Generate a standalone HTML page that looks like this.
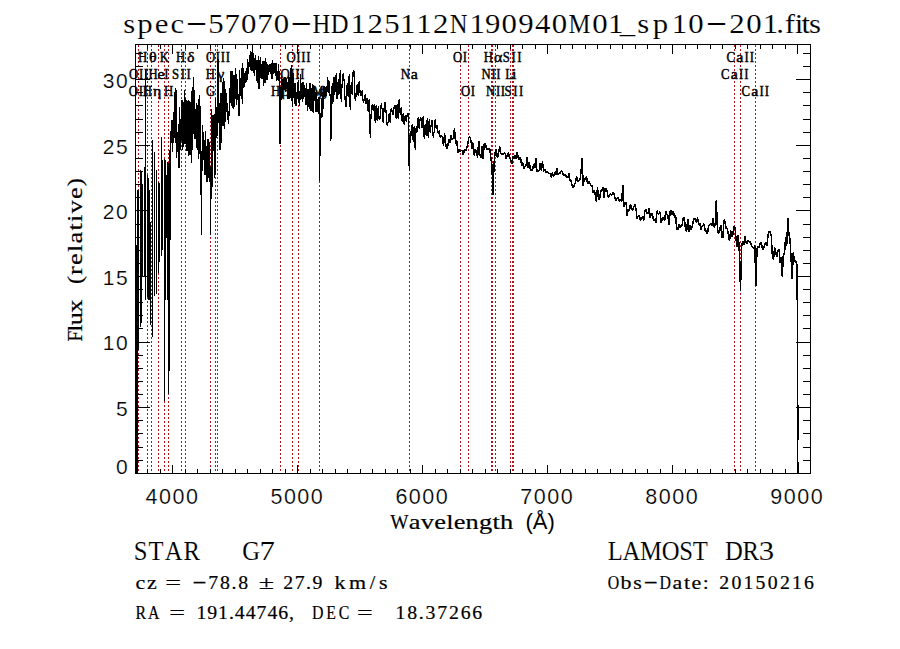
<!DOCTYPE html>
<html><head><meta charset="utf-8"><title>spec-57070-HD125112N190940M01_sp10-201</title>
<style>html,body{margin:0;padding:0;background:#fff;overflow:hidden}svg{display:block}text{fill:#000}</style></head>
<body>
<svg width="900" height="649" viewBox="0 0 900 649">
<rect width="900" height="649" fill="#fff"/>
<g stroke="#b5121b" stroke-width="1" stroke-dasharray="2 2" shape-rendering="crispEdges">
<line x1="138.5" y1="471.0" x2="138.5" y2="45.0"/>
<line x1="138.5" y1="471.0" x2="138.5" y2="45.0"/>
<line x1="147.5" y1="471.0" x2="147.5" y2="45.0"/>
<line x1="151.5" y1="471.0" x2="151.5" y2="45.0"/>
<line x1="158.5" y1="471.0" x2="158.5" y2="45.0"/>
<line x1="164.5" y1="471.0" x2="164.5" y2="45.0"/>
<line x1="168.5" y1="471.0" x2="168.5" y2="45.0"/>
<line x1="181.5" y1="471.0" x2="181.5" y2="45.0"/>
<line x1="185.5" y1="471.0" x2="185.5" y2="45.0"/>
<line x1="210.5" y1="471.0" x2="210.5" y2="45.0"/>
<line x1="215.5" y1="471.0" x2="215.5" y2="45.0"/>
<line x1="217.5" y1="471.0" x2="217.5" y2="45.0"/>
<line x1="280.5" y1="471.0" x2="280.5" y2="45.0"/>
<line x1="292.5" y1="471.0" x2="292.5" y2="45.0"/>
<line x1="298.5" y1="471.0" x2="298.5" y2="45.0"/>
<line x1="319.5" y1="471.0" x2="319.5" y2="45.0"/>
<line x1="409.5" y1="471.0" x2="409.5" y2="45.0"/>
<line x1="460.5" y1="471.0" x2="460.5" y2="45.0"/>
<line x1="468.5" y1="471.0" x2="468.5" y2="45.0"/>
<line x1="491.5" y1="471.0" x2="491.5" y2="45.0"/>
<line x1="492.5" y1="471.0" x2="492.5" y2="45.0"/>
<line x1="495.5" y1="471.0" x2="495.5" y2="45.0"/>
<line x1="510.5" y1="471.0" x2="510.5" y2="45.0"/>
<line x1="512.5" y1="471.0" x2="512.5" y2="45.0"/>
<line x1="513.5" y1="471.0" x2="513.5" y2="45.0"/>
<line x1="734.5" y1="471.0" x2="734.5" y2="45.0"/>
<line x1="740.5" y1="471.0" x2="740.5" y2="45.0"/>
<line x1="755.5" y1="471.0" x2="755.5" y2="45.0"/>
</g>
<path fill="none" stroke="#000" stroke-width="1" shape-rendering="crispEdges" d="M136.5 245V473 M137.5 190V473 M138.5 190V350 M140.5 170V327 M141.5 172V323 M142.5 185V277 M144.5 167V277 M145.5 70V300 M147.5 175V297 M148.5 178V300 M149.5 190V300 M150.5 222V325 M152.5 140V337 M154.5 152V296 M156.5 170V294 M158.5 182V273 M159.5 183V262 M161.5 137V256 M162.5 160V250 M164.5 159V401 M165.5 160V300 M166.5 175V238 M167.5 162V300 M168.5 163V394 M169.5 150V371 M170.5 131V240 M797.5 264V473 M796.5 262V300 M798.5 405V440 M798.5 462V473"/>
<polyline fill="none" stroke="#000" stroke-width="1.2" stroke-linejoin="bevel" shape-rendering="crispEdges" points="170.5,150.0 170.9,142.6 171.5,141.7 172.1,120.5 172.8,151.6 173.4,112.4 174.0,138.0 174.6,92.3 175.2,142.8 175.9,87.6 176.5,157.6 177.1,143.2 177.7,151.9 178.3,124.5 179.0,168.2 179.6,106.6 180.2,150.4 180.8,119.4 181.4,140.9 182.1,99.7 182.7,150.3 183.3,102.0 183.9,146.7 184.5,90.3 185.2,144.1 185.8,98.1 186.4,107.0 187.0,151.4 187.6,101.4 188.3,156.1 188.9,100.5 189.5,110.3 190.1,154.9 190.7,101.7 191.4,163.3 192.0,91.0 192.6,150.3 193.2,77.1 193.8,134.0 194.5,89.8 195.1,139.4 195.7,109.0 196.3,148.2 196.9,103.4 197.6,150.0 198.2,99.2 198.8,158.9 199.4,95.2 200.0,153.6 200.7,106.4 201.3,235.0 201.9,173.4 202.5,125.1 203.1,159.9 203.8,131.7 204.4,170.3 205.0,175.0 205.6,131.3 206.2,160.4 206.9,181.2 207.5,182.1 208.1,139.2 208.7,177.9 209.3,142.3 210.0,169.7 210.6,235.0 211.2,167.2 211.8,108.8 212.4,187.0 213.1,114.6 213.7,151.1 214.3,114.1 214.9,178.0 215.5,97.9 216.2,138.0 216.8,106.9 217.4,136.3 218.0,59.4 218.6,122.9 219.3,103.4 219.9,150.1 220.5,139.0 221.1,92.6 221.7,143.0 222.4,82.3 223.0,126.2 223.6,78.3 224.2,83.5 224.8,129.0 225.5,89.3 226.1,109.0 226.7,93.0 227.3,120.4 227.9,113.7 228.6,123.6 229.2,109.1 229.8,88.0 230.4,102.9 231.0,71.4 231.7,105.7 232.3,71.1 232.9,107.2 233.5,108.7 234.1,74.6 234.8,106.8 235.4,68.1 236.0,74.5 236.6,104.7 237.2,79.0 237.9,94.1 238.5,110.3 239.1,116.4 239.7,69.6 240.3,96.2 241.0,80.0 241.6,68.3 242.2,104.0 242.8,63.5 243.4,88.0 244.1,73.4 244.7,87.3 245.3,71.3 245.9,83.1 246.5,68.0 247.2,80.1 247.8,59.1 248.4,73.6 249.0,62.8 249.6,66.5 250.3,51.3 250.9,69.8 251.5,52.4 252.1,70.9 252.7,44.5 253.4,73.3 254.0,58.1 254.6,76.0 255.2,54.6 255.8,60.9 256.5,81.2 257.1,59.6 257.7,82.8 258.3,56.3 258.9,88.7 259.6,79.9 260.2,56.8 260.8,78.4 261.4,64.4 262.0,78.6 262.7,61.2 263.3,85.7 263.9,60.7 264.5,74.9 265.1,83.4 265.8,58.4 266.4,77.0 267.0,80.3 267.6,64.0 268.2,74.9 268.9,65.1 269.5,71.6 270.1,64.1 270.7,74.1 271.3,63.5 272.0,79.3 272.6,60.4 273.2,73.5 273.8,63.4 274.4,73.2 275.1,63.0 275.7,75.5 276.3,63.3 276.9,80.8 277.5,71.5 278.2,80.6 278.8,64.3 279.4,97.3 280.0,143.5 280.6,118.9 281.3,75.6 281.9,99.4 282.5,78.9 283.1,89.8 283.7,78.7 284.4,89.9 285.0,76.8 285.6,92.3 286.2,79.2 286.8,88.7 287.5,82.4 288.1,99.0 288.7,74.6 289.3,81.5 289.9,98.6 290.6,67.9 291.2,101.2 291.8,65.4 292.4,107.1 293.0,73.1 293.7,97.8 294.3,83.0 294.9,104.3 295.5,82.9 296.1,105.5 296.8,102.4 297.4,82.5 298.0,98.7 298.6,80.1 299.2,106.4 299.9,100.7 300.5,73.8 301.1,98.9 301.7,83.4 302.3,102.0 303.0,82.5 303.6,99.4 304.2,85.0 304.8,96.8 305.4,88.4 306.1,105.2 306.7,83.1 307.3,111.3 307.9,88.9 308.5,91.9 309.2,108.8 309.8,82.6 310.4,85.9 311.0,111.4 311.6,88.0 312.3,111.7 312.9,84.5 313.5,112.6 314.1,86.9 314.7,101.4 315.4,91.9 316.0,112.0 316.6,89.7 317.2,111.7 317.8,99.4 318.5,114.3 319.1,97.2 319.7,181.0 320.3,113.4 320.9,119.2 321.6,97.8 322.2,116.5 322.8,92.2 323.4,108.7 324.0,86.0 324.7,97.4 325.3,87.3 325.9,96.4 326.5,86.5 327.1,91.6 327.8,77.1 328.4,93.0 329.0,80.7 329.6,92.9 330.2,96.0 330.9,141.0 331.5,86.1 332.1,104.2 332.7,83.1 333.3,102.2 334.0,77.5 334.6,95.1 335.2,89.3 335.8,76.0 336.4,73.3 337.1,99.3 337.7,82.4 338.3,95.0 338.9,78.6 339.5,93.8 340.2,70.3 341.2,101.6 342.2,82.1 343.2,73.1 344.2,81.8 345.2,101.9 346.2,107.2 347.2,82.7 348.2,97.1 349.2,74.0 350.2,110.0 351.2,82.5 352.2,94.7 353.2,70.2 354.2,71.9 355.2,101.3 356.2,95.8 357.2,84.5 358.2,96.1 359.2,81.2 360.2,93.8 361.2,95.6 362.2,90.2 363.2,102.4 364.2,100.3 365.2,94.3 366.2,104.3 367.2,97.7 368.2,112.0 369.2,99.4 370.2,137.5 371.2,112.0 372.2,104.1 373.2,111.0 374.2,104.4 375.2,122.6 376.2,104.7 377.2,121.0 378.2,106.5 379.2,119.9 380.2,118.7 381.2,103.4 382.2,109.8 383.2,123.1 384.2,107.0 385.2,101.6 386.2,113.5 387.2,126.1 388.2,122.0 389.2,113.3 390.2,122.8 391.2,107.7 392.2,110.8 393.2,115.3 394.2,106.0 395.2,104.7 396.2,119.3 397.2,104.2 398.2,119.3 399.2,98.6 400.2,114.5 401.2,107.1 402.2,122.2 403.2,113.0 404.2,124.6 405.2,115.4 406.2,122.0 407.2,114.7 408.2,113.6 409.2,170.8 410.2,131.4 411.2,136.2 412.2,124.2 413.2,142.0 414.2,125.7 415.2,150.1 416.2,125.9 417.2,132.1 418.2,117.0 419.2,129.4 420.2,117.8 421.2,118.0 422.2,128.3 423.2,115.7 424.2,138.6 425.2,124.1 426.2,135.7 427.2,118.3 428.2,138.1 429.2,119.3 430.2,132.9 431.2,124.6 432.2,120.0 433.2,137.8 434.2,131.4 435.2,119.4 436.2,128.6 437.2,124.9 438.2,133.8 439.2,130.4 440.2,138.1"/>
<polyline fill="none" stroke="#000" stroke-width="1.5" stroke-linejoin="bevel" shape-rendering="crispEdges" points="440.2,138.1 441.3,134.8 442.4,137.4 443.5,146.2 444.6,133.4 445.7,144.3 446.8,148.7 447.9,145.4 449.0,138.7 450.1,143.2 451.2,135.4 452.3,139.8 453.4,138.3 454.5,127.9 455.6,144.1 456.7,139.9 457.8,152.7 458.9,149.6 460.0,151.5 461.1,150.1 462.2,151.1 463.3,155.1 464.4,149.1 465.5,151.2 466.6,148.0 467.7,144.3 468.8,137.2 469.9,137.0 471.0,140.6 472.1,148.8 473.2,142.6 474.3,155.5 475.4,149.4 476.5,151.8 477.6,158.0 478.7,140.7 479.8,154.5 480.9,157.9 482.0,146.1 483.1,159.4 484.2,144.4 485.3,142.8 486.4,148.8 487.5,148.8 488.6,149.1 489.7,148.5 490.8,157.2 491.9,164.9 493.0,194.6 494.1,162.5 495.2,152.0 496.3,148.9 497.4,158.3 498.5,154.4 499.6,146.2 500.7,153.5 501.8,155.0 502.9,153.9 504.0,153.8 505.1,152.9 506.2,158.7 507.3,155.0 508.4,152.6 509.5,158.1 510.6,159.2 511.7,164.0 512.8,155.8 513.9,159.1 515.0,155.4 516.1,159.0 517.2,152.3 518.3,158.2 519.4,160.0 520.5,156.8 521.6,165.9 522.7,162.3 523.8,169.1 524.9,166.8 526.0,165.9 527.1,156.8 528.2,168.3 529.3,161.8 530.4,170.3 531.5,170.5 532.6,169.4 533.7,163.9 534.8,167.7 535.9,158.0 537.0,171.7 538.1,170.7 539.2,170.9 540.3,163.1 541.4,170.7 542.5,161.5 543.6,171.3 544.7,169.4 545.8,172.3 546.9,171.8 548.0,172.1 549.1,173.3 550.2,173.2 551.3,177.4 552.4,172.5 553.5,177.3 554.6,172.5 555.7,175.1 556.8,167.9 557.9,175.1 559.0,173.1 560.1,173.0 561.2,171.0 562.3,171.4 563.4,175.2 564.5,175.0 565.6,174.6 566.7,177.8 567.8,177.6 568.9,173.5 570.0,180.3 571.1,180.9 572.2,186.1 573.3,187.7 574.4,184.6 575.5,182.4 576.6,176.4 577.7,182.2 578.8,180.6 579.9,180.1 581.0,172.4 582.1,158.0 583.2,185.9 584.3,178.8 585.4,179.8 586.5,175.8 587.6,184.2 588.7,180.8 589.8,183.3 590.9,185.1 592.0,185.6 593.1,192.4 594.2,190.0 595.3,194.8 596.4,202.1 597.5,186.8 598.6,200.1 599.7,197.9 600.8,191.0 601.9,190.7 603.0,187.1 604.1,198.0 605.2,188.6 606.3,187.9 607.4,192.9 608.5,198.2 609.6,194.3 610.7,194.2 611.8,195.1 612.9,192.7 614.0,194.0 615.1,198.6 616.2,200.7 617.3,197.8 618.4,197.8 619.5,201.5 620.6,199.7 621.7,201.5 622.8,184.8 623.9,207.1 625.0,202.9 626.1,202.6 627.2,215.7 628.3,208.9 629.4,210.9 630.5,203.9 631.6,209.1 632.7,210.2 633.8,207.1 634.9,204.5 636.0,208.8 637.1,218.7 638.2,216.1 639.3,215.3 640.4,220.1 641.5,219.1 642.6,215.9 643.7,220.8 644.8,211.2 645.9,209.1 647.0,213.1 648.1,213.9 649.2,208.4 650.3,218.0 651.4,214.0 652.5,214.2 653.6,220.6 654.7,219.5 655.8,223.1 656.9,210.7 658.0,213.3 659.1,214.1 660.2,211.7 661.3,223.2 662.4,217.6 663.5,217.7 664.6,221.1 665.7,210.7 666.8,213.8 667.9,215.9 669.0,224.7 670.1,211.8 671.2,210.7 672.3,215.1 673.4,210.7 674.5,217.5 675.6,215.6 676.7,228.6 677.8,229.9 678.9,224.2 680.0,228.0 681.1,225.8 682.2,224.8 683.3,218.1 684.4,217.3 685.5,230.1 686.6,231.8 687.7,218.6 688.8,231.8 689.9,224.8 691.0,229.5 692.1,227.2 693.2,221.3 694.3,218.0 695.4,219.2 696.5,222.6 697.6,217.5 698.7,225.1 699.8,223.6 700.9,230.2 702.0,226.5 703.1,225.6 704.2,223.8 705.3,231.1 706.4,231.1 707.5,234.2 708.6,225.8 709.7,225.2 710.8,223.7 711.9,226.1 713.0,218.0 714.1,227.3 715.2,224.2 716.3,200.0 717.4,228.8 718.5,233.6 719.6,230.8 720.7,224.8 721.8,237.0 722.9,237.5 724.0,219.8 725.1,221.5 726.2,228.4 727.3,228.8 728.4,234.4 729.5,241.2 730.6,230.3 731.7,236.5 732.8,235.0 733.9,226.5 735.0,226.9 736.1,239.9 737.2,247.2 738.3,235.0 739.4,252.6 740.5,290.5 741.6,247.0 742.7,241.3 743.8,245.1 744.9,236.0 746.0,242.8 747.1,244.0 748.2,240.3 749.3,242.2 750.4,241.5 751.5,246.0 752.6,247.7 753.7,248.0 754.8,245.7 755.9,286.2 757.0,249.0 758.1,246.8 759.2,247.9 760.3,242.4 761.4,242.6 762.5,250.0 763.6,248.6 764.7,244.8 765.8,242.0 766.9,246.3 768.0,235.5 769.1,231.6 770.2,231.1 771.3,236.3 772.4,256.1 773.5,260.0 774.6,247.5 775.7,252.3 776.8,256.5 777.9,250.6 779.0,249.4 780.1,262.6 781.2,256.9 782.3,276.5 783.4,253.0 784.5,254.5 785.6,236.6 786.7,245.5 787.8,218.3 788.9,233.8 790.0,238.8 791.1,259.6 792.2,278.7 793.3,252.1 794.4,262.2 795.5,259.9 796.6,264.8 797.0,268.0"/>
<g stroke="#000" stroke-width="1" fill="none" shape-rendering="crispEdges">
<rect x="135.5" y="44.5" width="675.0" height="429.0"/>
<line x1="147.5" y1="473.5" x2="147.5" y2="469.0"/>
<line x1="147.5" y1="44.5" x2="147.5" y2="49.0"/>
<line x1="160.5" y1="473.5" x2="160.5" y2="469.0"/>
<line x1="160.5" y1="44.5" x2="160.5" y2="49.0"/>
<line x1="172.5" y1="473.5" x2="172.5" y2="464.5"/>
<line x1="172.5" y1="44.5" x2="172.5" y2="53.5"/>
<line x1="185.5" y1="473.5" x2="185.5" y2="469.0"/>
<line x1="185.5" y1="44.5" x2="185.5" y2="49.0"/>
<line x1="197.5" y1="473.5" x2="197.5" y2="469.0"/>
<line x1="197.5" y1="44.5" x2="197.5" y2="49.0"/>
<line x1="210.5" y1="473.5" x2="210.5" y2="469.0"/>
<line x1="210.5" y1="44.5" x2="210.5" y2="49.0"/>
<line x1="222.5" y1="473.5" x2="222.5" y2="469.0"/>
<line x1="222.5" y1="44.5" x2="222.5" y2="49.0"/>
<line x1="235.5" y1="473.5" x2="235.5" y2="469.0"/>
<line x1="235.5" y1="44.5" x2="235.5" y2="49.0"/>
<line x1="247.5" y1="473.5" x2="247.5" y2="469.0"/>
<line x1="247.5" y1="44.5" x2="247.5" y2="49.0"/>
<line x1="260.5" y1="473.5" x2="260.5" y2="469.0"/>
<line x1="260.5" y1="44.5" x2="260.5" y2="49.0"/>
<line x1="272.5" y1="473.5" x2="272.5" y2="469.0"/>
<line x1="272.5" y1="44.5" x2="272.5" y2="49.0"/>
<line x1="285.5" y1="473.5" x2="285.5" y2="469.0"/>
<line x1="285.5" y1="44.5" x2="285.5" y2="49.0"/>
<line x1="297.5" y1="473.5" x2="297.5" y2="464.5"/>
<line x1="297.5" y1="44.5" x2="297.5" y2="53.5"/>
<line x1="310.5" y1="473.5" x2="310.5" y2="469.0"/>
<line x1="310.5" y1="44.5" x2="310.5" y2="49.0"/>
<line x1="322.5" y1="473.5" x2="322.5" y2="469.0"/>
<line x1="322.5" y1="44.5" x2="322.5" y2="49.0"/>
<line x1="335.5" y1="473.5" x2="335.5" y2="469.0"/>
<line x1="335.5" y1="44.5" x2="335.5" y2="49.0"/>
<line x1="347.5" y1="473.5" x2="347.5" y2="469.0"/>
<line x1="347.5" y1="44.5" x2="347.5" y2="49.0"/>
<line x1="360.5" y1="473.5" x2="360.5" y2="469.0"/>
<line x1="360.5" y1="44.5" x2="360.5" y2="49.0"/>
<line x1="372.5" y1="473.5" x2="372.5" y2="469.0"/>
<line x1="372.5" y1="44.5" x2="372.5" y2="49.0"/>
<line x1="385.5" y1="473.5" x2="385.5" y2="469.0"/>
<line x1="385.5" y1="44.5" x2="385.5" y2="49.0"/>
<line x1="397.5" y1="473.5" x2="397.5" y2="469.0"/>
<line x1="397.5" y1="44.5" x2="397.5" y2="49.0"/>
<line x1="410.5" y1="473.5" x2="410.5" y2="469.0"/>
<line x1="410.5" y1="44.5" x2="410.5" y2="49.0"/>
<line x1="422.5" y1="473.5" x2="422.5" y2="464.5"/>
<line x1="422.5" y1="44.5" x2="422.5" y2="53.5"/>
<line x1="435.5" y1="473.5" x2="435.5" y2="469.0"/>
<line x1="435.5" y1="44.5" x2="435.5" y2="49.0"/>
<line x1="447.5" y1="473.5" x2="447.5" y2="469.0"/>
<line x1="447.5" y1="44.5" x2="447.5" y2="49.0"/>
<line x1="460.5" y1="473.5" x2="460.5" y2="469.0"/>
<line x1="460.5" y1="44.5" x2="460.5" y2="49.0"/>
<line x1="472.5" y1="473.5" x2="472.5" y2="469.0"/>
<line x1="472.5" y1="44.5" x2="472.5" y2="49.0"/>
<line x1="485.5" y1="473.5" x2="485.5" y2="469.0"/>
<line x1="485.5" y1="44.5" x2="485.5" y2="49.0"/>
<line x1="497.5" y1="473.5" x2="497.5" y2="469.0"/>
<line x1="497.5" y1="44.5" x2="497.5" y2="49.0"/>
<line x1="510.5" y1="473.5" x2="510.5" y2="469.0"/>
<line x1="510.5" y1="44.5" x2="510.5" y2="49.0"/>
<line x1="522.5" y1="473.5" x2="522.5" y2="469.0"/>
<line x1="522.5" y1="44.5" x2="522.5" y2="49.0"/>
<line x1="535.5" y1="473.5" x2="535.5" y2="469.0"/>
<line x1="535.5" y1="44.5" x2="535.5" y2="49.0"/>
<line x1="547.5" y1="473.5" x2="547.5" y2="464.5"/>
<line x1="547.5" y1="44.5" x2="547.5" y2="53.5"/>
<line x1="560.5" y1="473.5" x2="560.5" y2="469.0"/>
<line x1="560.5" y1="44.5" x2="560.5" y2="49.0"/>
<line x1="572.5" y1="473.5" x2="572.5" y2="469.0"/>
<line x1="572.5" y1="44.5" x2="572.5" y2="49.0"/>
<line x1="585.5" y1="473.5" x2="585.5" y2="469.0"/>
<line x1="585.5" y1="44.5" x2="585.5" y2="49.0"/>
<line x1="597.5" y1="473.5" x2="597.5" y2="469.0"/>
<line x1="597.5" y1="44.5" x2="597.5" y2="49.0"/>
<line x1="610.5" y1="473.5" x2="610.5" y2="469.0"/>
<line x1="610.5" y1="44.5" x2="610.5" y2="49.0"/>
<line x1="622.5" y1="473.5" x2="622.5" y2="469.0"/>
<line x1="622.5" y1="44.5" x2="622.5" y2="49.0"/>
<line x1="635.5" y1="473.5" x2="635.5" y2="469.0"/>
<line x1="635.5" y1="44.5" x2="635.5" y2="49.0"/>
<line x1="647.5" y1="473.5" x2="647.5" y2="469.0"/>
<line x1="647.5" y1="44.5" x2="647.5" y2="49.0"/>
<line x1="660.5" y1="473.5" x2="660.5" y2="469.0"/>
<line x1="660.5" y1="44.5" x2="660.5" y2="49.0"/>
<line x1="672.5" y1="473.5" x2="672.5" y2="464.5"/>
<line x1="672.5" y1="44.5" x2="672.5" y2="53.5"/>
<line x1="685.5" y1="473.5" x2="685.5" y2="469.0"/>
<line x1="685.5" y1="44.5" x2="685.5" y2="49.0"/>
<line x1="697.5" y1="473.5" x2="697.5" y2="469.0"/>
<line x1="697.5" y1="44.5" x2="697.5" y2="49.0"/>
<line x1="710.5" y1="473.5" x2="710.5" y2="469.0"/>
<line x1="710.5" y1="44.5" x2="710.5" y2="49.0"/>
<line x1="722.5" y1="473.5" x2="722.5" y2="469.0"/>
<line x1="722.5" y1="44.5" x2="722.5" y2="49.0"/>
<line x1="735.5" y1="473.5" x2="735.5" y2="469.0"/>
<line x1="735.5" y1="44.5" x2="735.5" y2="49.0"/>
<line x1="747.5" y1="473.5" x2="747.5" y2="469.0"/>
<line x1="747.5" y1="44.5" x2="747.5" y2="49.0"/>
<line x1="760.5" y1="473.5" x2="760.5" y2="469.0"/>
<line x1="760.5" y1="44.5" x2="760.5" y2="49.0"/>
<line x1="772.5" y1="473.5" x2="772.5" y2="469.0"/>
<line x1="772.5" y1="44.5" x2="772.5" y2="49.0"/>
<line x1="785.5" y1="473.5" x2="785.5" y2="469.0"/>
<line x1="785.5" y1="44.5" x2="785.5" y2="49.0"/>
<line x1="797.5" y1="473.5" x2="797.5" y2="464.5"/>
<line x1="797.5" y1="44.5" x2="797.5" y2="53.5"/>
<line x1="810.5" y1="473.5" x2="810.5" y2="469.0"/>
<line x1="810.5" y1="44.5" x2="810.5" y2="49.0"/>
<line x1="135.5" y1="460.5" x2="143.0" y2="460.5"/>
<line x1="810.5" y1="460.5" x2="803.0" y2="460.5"/>
<line x1="135.5" y1="447.5" x2="143.0" y2="447.5"/>
<line x1="810.5" y1="447.5" x2="803.0" y2="447.5"/>
<line x1="135.5" y1="433.5" x2="143.0" y2="433.5"/>
<line x1="810.5" y1="433.5" x2="803.0" y2="433.5"/>
<line x1="135.5" y1="420.5" x2="143.0" y2="420.5"/>
<line x1="810.5" y1="420.5" x2="803.0" y2="420.5"/>
<line x1="135.5" y1="407.5" x2="150.0" y2="407.5"/>
<line x1="810.5" y1="407.5" x2="796.0" y2="407.5"/>
<line x1="135.5" y1="394.5" x2="143.0" y2="394.5"/>
<line x1="810.5" y1="394.5" x2="803.0" y2="394.5"/>
<line x1="135.5" y1="381.5" x2="143.0" y2="381.5"/>
<line x1="810.5" y1="381.5" x2="803.0" y2="381.5"/>
<line x1="135.5" y1="368.5" x2="143.0" y2="368.5"/>
<line x1="810.5" y1="368.5" x2="803.0" y2="368.5"/>
<line x1="135.5" y1="355.5" x2="143.0" y2="355.5"/>
<line x1="810.5" y1="355.5" x2="803.0" y2="355.5"/>
<line x1="135.5" y1="342.5" x2="150.0" y2="342.5"/>
<line x1="810.5" y1="342.5" x2="796.0" y2="342.5"/>
<line x1="135.5" y1="328.5" x2="143.0" y2="328.5"/>
<line x1="810.5" y1="328.5" x2="803.0" y2="328.5"/>
<line x1="135.5" y1="315.5" x2="143.0" y2="315.5"/>
<line x1="810.5" y1="315.5" x2="803.0" y2="315.5"/>
<line x1="135.5" y1="302.5" x2="143.0" y2="302.5"/>
<line x1="810.5" y1="302.5" x2="803.0" y2="302.5"/>
<line x1="135.5" y1="289.5" x2="143.0" y2="289.5"/>
<line x1="810.5" y1="289.5" x2="803.0" y2="289.5"/>
<line x1="135.5" y1="276.5" x2="150.0" y2="276.5"/>
<line x1="810.5" y1="276.5" x2="796.0" y2="276.5"/>
<line x1="135.5" y1="263.5" x2="143.0" y2="263.5"/>
<line x1="810.5" y1="263.5" x2="803.0" y2="263.5"/>
<line x1="135.5" y1="250.5" x2="143.0" y2="250.5"/>
<line x1="810.5" y1="250.5" x2="803.0" y2="250.5"/>
<line x1="135.5" y1="237.5" x2="143.0" y2="237.5"/>
<line x1="810.5" y1="237.5" x2="803.0" y2="237.5"/>
<line x1="135.5" y1="224.5" x2="143.0" y2="224.5"/>
<line x1="810.5" y1="224.5" x2="803.0" y2="224.5"/>
<line x1="135.5" y1="210.5" x2="150.0" y2="210.5"/>
<line x1="810.5" y1="210.5" x2="796.0" y2="210.5"/>
<line x1="135.5" y1="197.5" x2="143.0" y2="197.5"/>
<line x1="810.5" y1="197.5" x2="803.0" y2="197.5"/>
<line x1="135.5" y1="184.5" x2="143.0" y2="184.5"/>
<line x1="810.5" y1="184.5" x2="803.0" y2="184.5"/>
<line x1="135.5" y1="171.5" x2="143.0" y2="171.5"/>
<line x1="810.5" y1="171.5" x2="803.0" y2="171.5"/>
<line x1="135.5" y1="158.5" x2="143.0" y2="158.5"/>
<line x1="810.5" y1="158.5" x2="803.0" y2="158.5"/>
<line x1="135.5" y1="145.5" x2="150.0" y2="145.5"/>
<line x1="810.5" y1="145.5" x2="796.0" y2="145.5"/>
<line x1="135.5" y1="132.5" x2="143.0" y2="132.5"/>
<line x1="810.5" y1="132.5" x2="803.0" y2="132.5"/>
<line x1="135.5" y1="119.5" x2="143.0" y2="119.5"/>
<line x1="810.5" y1="119.5" x2="803.0" y2="119.5"/>
<line x1="135.5" y1="105.5" x2="143.0" y2="105.5"/>
<line x1="810.5" y1="105.5" x2="803.0" y2="105.5"/>
<line x1="135.5" y1="92.5" x2="143.0" y2="92.5"/>
<line x1="810.5" y1="92.5" x2="803.0" y2="92.5"/>
<line x1="135.5" y1="79.5" x2="150.0" y2="79.5"/>
<line x1="810.5" y1="79.5" x2="796.0" y2="79.5"/>
<line x1="135.5" y1="66.5" x2="143.0" y2="66.5"/>
<line x1="810.5" y1="66.5" x2="803.0" y2="66.5"/>
<line x1="135.5" y1="53.5" x2="143.0" y2="53.5"/>
<line x1="810.5" y1="53.5" x2="803.0" y2="53.5"/>
</g>
<g font-family='"Liberation Serif", serif' font-size="14.5" font-weight="normal" stroke="#000" stroke-width="0.45"><text transform="scale(0.880,1)" x="146.2 157.6 163.3" y="96.2">OII</text></g>
<g font-family='"Liberation Serif", serif' font-size="14.5" font-weight="normal" stroke="#000" stroke-width="0.45"><text transform="scale(0.880,1)" x="146.6 158.0 163.7" y="78.9">OII</text></g>
<g font-family='"Liberation Serif", serif' font-size="14.5" font-weight="normal" stroke="#000" stroke-width="0.45"><text transform="scale(0.880,1)" x="156.8" y="61.7">H</text><text transform="scale(1.100,1)" x="135.4" y="61.7">θ</text></g>
<g font-family='"Liberation Serif", serif' font-size="14.5" font-weight="normal" stroke="#000" stroke-width="0.45"><text transform="scale(0.880,1)" x="162.1" y="96.2">H</text><text transform="scale(1.100,1)" x="139.0" y="96.2">η</text></g>
<g font-family='"Liberation Serif", serif' font-size="14.5" font-weight="normal" stroke="#000" stroke-width="0.45"><text transform="scale(0.880,1)" x="168.8" y="78.9">H</text><text transform="scale(1.100,1)" x="143.2" y="78.9">e</text><text transform="scale(0.880,1)" x="186.7" y="78.9">I</text></g>
<g font-family='"Liberation Serif", serif' font-size="14.5" font-weight="normal" stroke="#000" stroke-width="0.45"><text transform="scale(0.880,1)" x="181.4" y="61.7">K</text></g>
<g font-family='"Liberation Serif", serif' font-size="14.5" font-weight="normal" stroke="#000" stroke-width="0.45"><text transform="scale(0.880,1)" x="186.4" y="96.2">H</text></g>
<g font-family='"Liberation Serif", serif' font-size="14.5" font-weight="normal" stroke="#000" stroke-width="0.45"><text transform="scale(0.880,1)" x="195.6 205.4 212.0" y="78.9">SII</text></g>
<g font-family='"Liberation Serif", serif' font-size="14.5" font-weight="normal" stroke="#000" stroke-width="0.45"><text transform="scale(0.880,1)" x="200.0" y="61.7">H</text><text transform="scale(1.100,1)" x="170.1" y="61.7">δ</text></g>
<g font-family='"Liberation Serif", serif' font-size="14.5" font-weight="normal" stroke="#000" stroke-width="0.45"><text transform="scale(0.880,1)" x="234.1" y="96.2">G</text></g>
<g font-family='"Liberation Serif", serif' font-size="14.5" font-weight="normal" stroke="#000" stroke-width="0.45"><text transform="scale(0.880,1)" x="233.9" y="78.9">H</text><text transform="scale(1.100,1)" x="197.6" y="78.9">γ</text></g>
<g font-family='"Liberation Serif", serif' font-size="14.5" font-weight="normal" stroke="#000" stroke-width="0.45"><text transform="scale(0.880,1)" x="234.0 245.3 250.9 256.5" y="61.7">OIII</text></g>
<g font-family='"Liberation Serif", serif' font-size="14.5" font-weight="normal" stroke="#000" stroke-width="0.45"><text transform="scale(0.880,1)" x="307.9" y="96.2">H</text><text transform="scale(1.100,1)" x="255.8" y="96.2">β</text></g>
<g font-family='"Liberation Serif", serif' font-size="14.5" font-weight="normal" stroke="#000" stroke-width="0.45"><text transform="scale(0.880,1)" x="318.7 329.9 335.5 341.1" y="78.9">OIII</text></g>
<g font-family='"Liberation Serif", serif' font-size="14.5" font-weight="normal" stroke="#000" stroke-width="0.45"><text transform="scale(0.880,1)" x="325.5 336.7 342.3 347.9" y="61.7">OIII</text></g>
<g font-family='"Liberation Serif", serif' font-size="14.5" font-weight="normal" stroke="#000" stroke-width="0.45"><text transform="scale(0.880,1)" x="355.1" y="96.2">M</text><text transform="scale(1.100,1)" x="289.5" y="96.2">g</text></g>
<g font-family='"Liberation Serif", serif' font-size="14.5" font-weight="normal" stroke="#000" stroke-width="0.45"><text transform="scale(0.880,1)" x="455.5" y="78.9">N</text><text transform="scale(1.100,1)" x="373.4" y="78.9">a</text></g>
<g font-family='"Liberation Serif", serif' font-size="14.5" font-weight="normal" stroke="#000" stroke-width="0.45"><text transform="scale(0.880,1)" x="514.9 526.0" y="61.7">OI</text></g>
<g font-family='"Liberation Serif", serif' font-size="14.5" font-weight="normal" stroke="#000" stroke-width="0.45"><text transform="scale(0.880,1)" x="523.9 535.0" y="96.2">OI</text></g>
<g font-family='"Liberation Serif", serif' font-size="14.5" font-weight="normal" stroke="#000" stroke-width="0.45"><text transform="scale(0.880,1)" x="547.2 558.4 564.0" y="78.9">NII</text></g>
<g font-family='"Liberation Serif", serif' font-size="14.5" font-weight="normal" stroke="#000" stroke-width="0.45"><text transform="scale(0.880,1)" x="549.6" y="61.7">H</text><text transform="scale(1.100,1)" x="449.0" y="61.7">α</text></g>
<g font-family='"Liberation Serif", serif' font-size="14.5" font-weight="normal" stroke="#000" stroke-width="0.45"><text transform="scale(0.880,1)" x="552.3 563.5 569.0" y="96.2">NII</text></g>
<g font-family='"Liberation Serif", serif' font-size="14.5" font-weight="normal" stroke="#000" stroke-width="0.45"><text transform="scale(0.880,1)" x="574.1" y="78.9">L</text><text transform="scale(1.100,1)" x="465.5" y="78.9">i</text></g>
<g font-family='"Liberation Serif", serif' font-size="14.5" font-weight="normal" stroke="#000" stroke-width="0.45"><text transform="scale(0.880,1)" x="571.3 581.2 587.7" y="61.7">SII</text></g>
<g font-family='"Liberation Serif", serif' font-size="14.5" font-weight="normal" stroke="#000" stroke-width="0.45"><text transform="scale(0.880,1)" x="573.4 583.2 589.8" y="96.2">SII</text></g>
<g font-family='"Liberation Serif", serif' font-size="14.5" font-weight="normal" stroke="#000" stroke-width="0.45"><text transform="scale(0.880,1)" x="819.4" y="78.9">C</text><text transform="scale(1.100,1)" x="664.3" y="78.9">a</text><text transform="scale(0.880,1)" x="839.7 845.8" y="78.9">II</text></g>
<g font-family='"Liberation Serif", serif' font-size="14.5" font-weight="normal" stroke="#000" stroke-width="0.45"><text transform="scale(0.880,1)" x="825.7" y="61.7">C</text><text transform="scale(1.100,1)" x="669.3" y="61.7">a</text><text transform="scale(0.880,1)" x="846.0 852.1" y="61.7">II</text></g>
<g font-family='"Liberation Serif", serif' font-size="14.5" font-weight="normal" stroke="#000" stroke-width="0.45"><text transform="scale(0.880,1)" x="842.7" y="96.2">C</text><text transform="scale(1.100,1)" x="682.9" y="96.2">a</text><text transform="scale(0.880,1)" x="863.0 869.1" y="96.2">II</text></g>
<g font-family='"Liberation Serif", serif' font-size="28" font-weight="normal" stroke="#fff" stroke-width="0.12"><text transform="scale(1.100,1)" text-anchor="middle" x="117.5 131.7 146.9 161.2" y="33.0">spec</text><text transform="scale(2.400,1)" text-anchor="middle" x="81.9" y="29.8">-</text><text transform="scale(1.100,1)" text-anchor="middle" x="196.4 211.2 226.1 240.9 255.8" y="33.0">57070</text><text transform="scale(2.400,1)" text-anchor="middle" x="125.5" y="29.8">-</text><text transform="scale(0.880,1)" text-anchor="middle" x="365.2 385.9" y="33.0">HD</text><text transform="scale(1.100,1)" text-anchor="middle" x="325.6 341.1 356.4 370.7 385.5 400.6" y="33.0">125112</text><text transform="scale(0.880,1)" text-anchor="middle" x="521.2" y="33.0">N</text><text transform="scale(1.100,1)" text-anchor="middle" x="433.9 448.0 463.0 478.2 493.4 508.5" y="33.0">190940</text><text transform="scale(0.880,1)" text-anchor="middle" x="658.5" y="33.0">M</text><text transform="scale(1.100,1)" text-anchor="middle" x="545.5 559.8 570.5 584.7 600.5 617.7 632.7" y="33.0">01_sp10</text><text transform="scale(2.400,1)" text-anchor="middle" x="298.5" y="29.8">-</text><text transform="scale(1.100,1)" text-anchor="middle" x="670.0 685.5 700.5 709.1 718.2 726.4 732.5 740.9" y="33.0">201.fits</text></g>
<g font-family='"Liberation Sans", sans-serif' font-size="21" font-weight="normal" stroke="#fff" stroke-width="0.2"><text x="115.9" y="474.2">0</text></g>
<g font-family='"Liberation Sans", sans-serif' font-size="21" font-weight="normal" stroke="#fff" stroke-width="0.2"><text x="115.9" y="416.0">5</text></g>
<g font-family='"Liberation Sans", sans-serif' font-size="21" font-weight="normal" stroke="#fff" stroke-width="0.2"><text x="102.8 115.9" y="350.4">10</text></g>
<g font-family='"Liberation Sans", sans-serif' font-size="21" font-weight="normal" stroke="#fff" stroke-width="0.2"><text x="102.8 115.9" y="284.8">15</text></g>
<g font-family='"Liberation Sans", sans-serif' font-size="21" font-weight="normal" stroke="#fff" stroke-width="0.2"><text x="102.8 115.9" y="219.2">20</text></g>
<g font-family='"Liberation Sans", sans-serif' font-size="21" font-weight="normal" stroke="#fff" stroke-width="0.2"><text x="102.8 115.9" y="153.6">25</text></g>
<g font-family='"Liberation Sans", sans-serif' font-size="21" font-weight="normal" stroke="#fff" stroke-width="0.2"><text x="102.8 115.9" y="88.0">30</text></g>
<g font-family='"Liberation Sans", sans-serif' font-size="21.5" font-weight="normal" stroke="#fff" stroke-width="0.2"><text x="145.4 158.9 172.4 185.9" y="503.7">4000</text></g>
<g font-family='"Liberation Sans", sans-serif' font-size="21.5" font-weight="normal" stroke="#fff" stroke-width="0.2"><text x="270.4 283.9 297.3 310.8" y="503.7">5000</text></g>
<g font-family='"Liberation Sans", sans-serif' font-size="21.5" font-weight="normal" stroke="#fff" stroke-width="0.2"><text x="395.4 408.8 422.3 435.8" y="503.7">6000</text></g>
<g font-family='"Liberation Sans", sans-serif' font-size="21.5" font-weight="normal" stroke="#fff" stroke-width="0.2"><text x="520.3 533.8 547.3 560.8" y="503.7">7000</text></g>
<g font-family='"Liberation Sans", sans-serif' font-size="21.5" font-weight="normal" stroke="#fff" stroke-width="0.2"><text x="645.3 658.8 672.2 685.7" y="503.7">8000</text></g>
<g font-family='"Liberation Sans", sans-serif' font-size="21.5" font-weight="normal" stroke="#fff" stroke-width="0.2"><text x="770.3 783.7 797.2 810.7" y="503.7">9000</text></g>
<g font-family='"Liberation Serif", serif' font-size="22" font-weight="normal" stroke="#000" stroke-width="0.2"><text transform="scale(0.880,1)" x="443.6" y="529.2">W</text><text transform="scale(1.200,1)" x="340.7 350.7 361.9 371.8 378.1 388.0 399.2 410.4 416.7" y="529.2">avelength</text></g>
<g font-family='"Liberation Sans", sans-serif' font-size="22" font-weight="normal"><text x="525.5 532.8 547.5" y="529.2">(Å)</text></g>
<g transform="translate(81.8,341.6) rotate(-90)">
<g font-family='"Liberation Serif", serif' font-size="22" font-weight="normal" stroke="#000" stroke-width="0.2"><text transform="scale(0.880,1)" x="0.0" y="0.0">F</text><text transform="scale(1.200,1)" x="8.3 13.7 24.0" y="0.0">lux</text></g>
<g font-family='"Liberation Serif", serif' font-size="22" font-weight="normal" stroke="#000" stroke-width="0.2"><text transform="scale(1.100,1)" x="52.3" y="0.0">(</text><text transform="scale(1.200,1)" x="55.6 63.9 74.7 81.8 92.6 99.7 106.8 118.8" y="0.0">relative</text><text transform="scale(1.100,1)" x="141.3" y="0.0">)</text></g>
</g>
<g font-family='"Liberation Serif", serif' font-size="28" font-weight="normal" stroke="#fff" stroke-width="0.12"><text transform="scale(0.880,1)" x="152.0 168.8 187.2 208.6" y="560.3">STAR</text></g>
<g font-family='"Liberation Serif", serif' font-size="28" font-weight="normal" stroke="#fff" stroke-width="0.12"><text transform="scale(0.880,1)" x="275.2" y="560.3">G</text><text transform="scale(1.100,1)" x="236.0" y="560.3">7</text></g>
<g font-family='"Liberation Serif", serif' font-size="18" font-weight="normal" stroke="#000" stroke-width="0.2"><text transform="scale(1.220,1)" x="111.1 120.4" y="589.4">cz</text></g>
<g font-family='"Liberation Serif", serif' font-size="18" font-weight="normal" stroke="#000" stroke-width="0.2"><text transform="scale(1.550,1)" x="106.7" y="589.4">=</text></g>
<g font-family='"Liberation Serif", serif' font-size="18" font-weight="normal" stroke="#000" stroke-width="0.2"><text transform="scale(2.400,1)" x="80.1" y="587.3">-</text><text transform="scale(1.100,1)" x="189.3 199.9 210.4 216.5" y="589.4">78.8</text></g>
<g font-family='"Liberation Serif", serif' font-size="18" font-weight="normal" stroke="#000" stroke-width="0.2"><text transform="scale(1.550,1)" x="167.0" y="589.4">±</text></g>
<g font-family='"Liberation Serif", serif' font-size="18" font-weight="normal" stroke="#000" stroke-width="0.2"><text transform="scale(1.100,1)" x="257.5 267.9 278.2 284.1" y="589.4">27.9</text></g>
<g font-family='"Liberation Serif", serif' font-size="18" font-weight="normal" stroke="#000" stroke-width="0.2"><text transform="scale(1.220,1)" x="274.1 286.1" y="589.4">km</text><text transform="scale(1.100,1)" x="336.2" y="589.4">/</text><text transform="scale(1.220,1)" x="310.7" y="589.4">s</text></g>
<g font-family='"Liberation Serif", serif' font-size="18" font-weight="normal" stroke="#000" stroke-width="0.2"><text transform="scale(0.880,1)" x="154.1 168.1" y="619.4">RA</text></g>
<g font-family='"Liberation Serif", serif' font-size="18" font-weight="normal" stroke="#000" stroke-width="0.2"><text transform="scale(1.550,1)" x="109.2" y="619.4">=</text></g>
<g font-family='"Liberation Serif", serif' font-size="18" font-weight="normal" stroke="#000" stroke-width="0.2"><text transform="scale(1.100,1)" x="178.6 188.5 198.3 208.2 213.5 223.4 233.2 243.1 252.9 262.8" y="619.4">191.44746,</text></g>
<g font-family='"Liberation Serif", serif' font-size="18" font-weight="normal" stroke="#000" stroke-width="0.2"><text transform="scale(0.880,1)" x="354.5 370.8 385.0" y="619.4">DEC</text></g>
<g font-family='"Liberation Serif", serif' font-size="18" font-weight="normal" stroke="#000" stroke-width="0.2"><text transform="scale(1.550,1)" x="230.4" y="619.4">=</text></g>
<g font-family='"Liberation Serif", serif' font-size="18" font-weight="normal" stroke="#000" stroke-width="0.2"><text transform="scale(1.100,1)" x="359.6 370.2 380.8 386.9 397.6 408.2 418.8 429.4" y="619.4">18.37266</text></g>
<g font-family='"Liberation Serif", serif' font-size="28" font-weight="normal" stroke="#fff" stroke-width="0.12"><text transform="scale(0.880,1)" x="690.5 707.3 727.3 751.9 771.9 787.2" y="560.5">LAMOST</text></g>
<g font-family='"Liberation Serif", serif' font-size="28" font-weight="normal" stroke="#fff" stroke-width="0.12"><text transform="scale(0.880,1)" x="823.9 843.8" y="560.5">DR</text><text transform="scale(1.100,1)" x="689.8" y="560.5">3</text></g>
<g font-family='"Liberation Serif", serif' font-size="18" font-weight="normal" stroke="#000" stroke-width="0.2"><text transform="scale(0.880,1)" x="690.5" y="589.4">O</text><text transform="scale(1.220,1)" x="508.7 519.1" y="589.4">bs</text><text transform="scale(2.400,1)" x="268.1" y="587.3">-</text><text transform="scale(0.880,1)" x="749.4" y="589.4">D</text><text transform="scale(1.220,1)" x="551.2 560.6 566.9" y="589.4">ate</text><text transform="scale(1.100,1)" x="639.1" y="589.4">:</text></g>
<g font-family='"Liberation Serif", serif' font-size="18" font-weight="normal" stroke="#000" stroke-width="0.2"><text transform="scale(1.100,1)" x="653.9 664.9 675.9 686.9 698.0 709.0 720.0 731.0" y="589.4">20150216</text></g>
</svg>
</body></html>
